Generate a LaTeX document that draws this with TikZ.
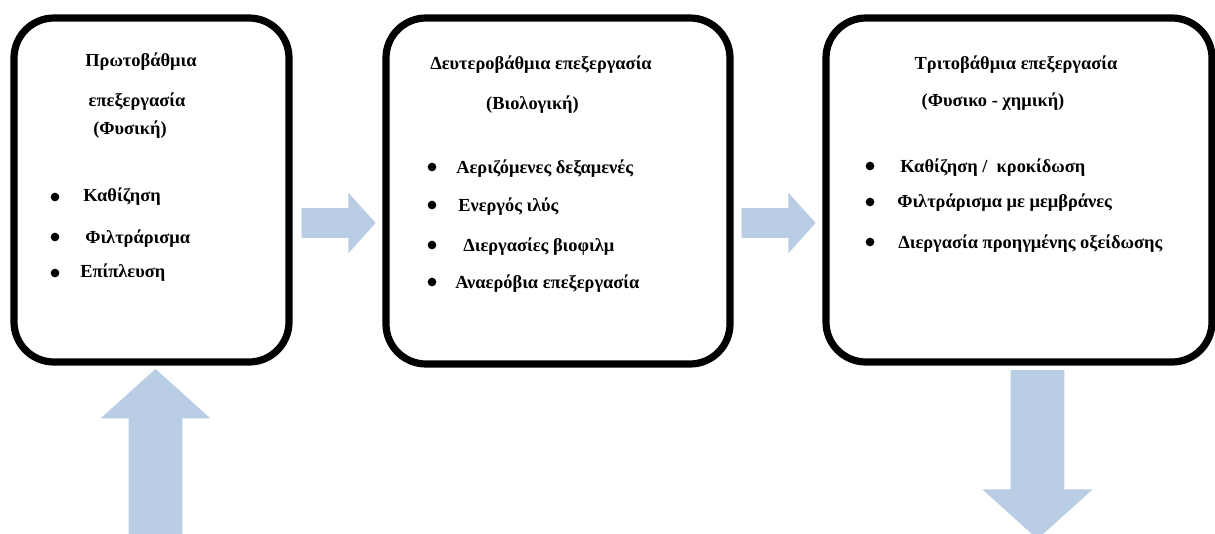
\documentclass[tikz,border=0pt]{standalone}
\usepackage{fontspec}
\setmainfont{Liberation Serif}
\usepackage{xcolor}
\usetikzlibrary{shapes.arrows}
\definecolor{pale}{HTML}{B9CDE5}

\begin{document}
\begin{tikzpicture}[x=0.75pt,y=-0.75pt,
    stage/.style={draw,line width=5.4pt,rounded corners=30pt,inner sep=0pt},
    txt/.style={inner sep=0pt,font=\fontsize{13.8}{16}\selectfont\bfseries,text height=11pt,text depth=2pt},
    item/.style={txt,anchor=west},
    dot/.style={circle,fill,inner sep=0pt,minimum size=6.5pt},
    flow/.style={single arrow,fill=pale,draw=none,inner xsep=0pt,single arrow tip angle=96}]

    \useasboundingbox (0,0) rectangle (1215,533);
    \clip (0,0) rectangle (1215,533);

    \node [stage,minimum width=206.25pt,minimum height=258pt] (a) at (151.5,190) {};
    \node [stage,minimum width=258pt,minimum height=259.5pt] (b) at (558,191) {};
    \node [stage,minimum width=289.5pt,minimum height=258pt] (c) at (1019,190) {};

    \node [txt] (a1) at (141,60) {Πρωτοβάθμια};
    \node [txt] (a2) at (137,100) {επεξεργασία};
    \node [txt] (a3) at (130,128) {(Φυσική)};
    \node [dot] (ad1) at (55,197) {};
    \node [dot] (ad2) at (55,237) {};
    \node [dot] (ad3) at (55,273) {};
    \node [item] (ai1) at (83,195) {Καθίζηση};
    \node [item] (ai2) at (85,237) {Φιλτράρισμα};
    \node [item] (ai3) at (80,271) {Επίπλευση};

    \node [txt] (b1) at (541,63) {Δευτεροβάθμια επεξεργασία};
    \node [txt] (b2) at (532.5,103) {(Βιολογική)};
    \node [dot] (bd1) at (432,167) {};
    \node [dot] (bd2) at (432,205) {};
    \node [dot] (bd3) at (432,245) {};
    \node [dot] (bd4) at (432,282) {};
    \node [item] (bi1) at (456,167) {Αεριζόμενες δεξαμενές};
    \node [item] (bi2) at (458,205) {Ενεργός ιλύς};
    \node [item] (bi3) at (463,245) {Διεργασίες βιοφιλμ};
    \node [item] (bi4) at (455,282) {Αναερόβια επεξεργασία};

    \node [txt] (c1) at (1016,63) {Τριτοβάθμια επεξεργασία};
    \node [txt] (c2) at (993,100) {(Φυσικο - χημική)};
    \node [dot] (cd1) at (870,166) {};
    \node [dot] (cd2) at (870,202) {};
    \node [dot] (cd3) at (870,242) {};
    \node [item] (ci1) at (900,166) {Καθίζηση /\ \ κροκίδωση};
    \node [item] (ci2) at (897,201) {Φιλτράρισμα με μεμβράνες};
    \node [item] (ci3) at (898,242) {Διεργασία προηγμένης οξείδωσης};

    \node [flow,inner ysep=10.9pt,single arrow head extend=11.6pt,minimum height=55.5pt] (r) at (332,223) {};
    \node [flow,inner ysep=10.9pt,single arrow head extend=11.6pt,minimum height=55.5pt] (s) at (772,223) {};
    \node [flow,rotate=90,inner ysep=19.9pt,single arrow head extend=21pt,minimum height=132pt] (u) at (155.5,469) {};
    \node [flow,rotate=-90,inner ysep=19.9pt,single arrow head extend=21.4pt,minimum height=126.75pt] (v) at (1037.5,442.5) {};

  \end{tikzpicture}
\end{document}
